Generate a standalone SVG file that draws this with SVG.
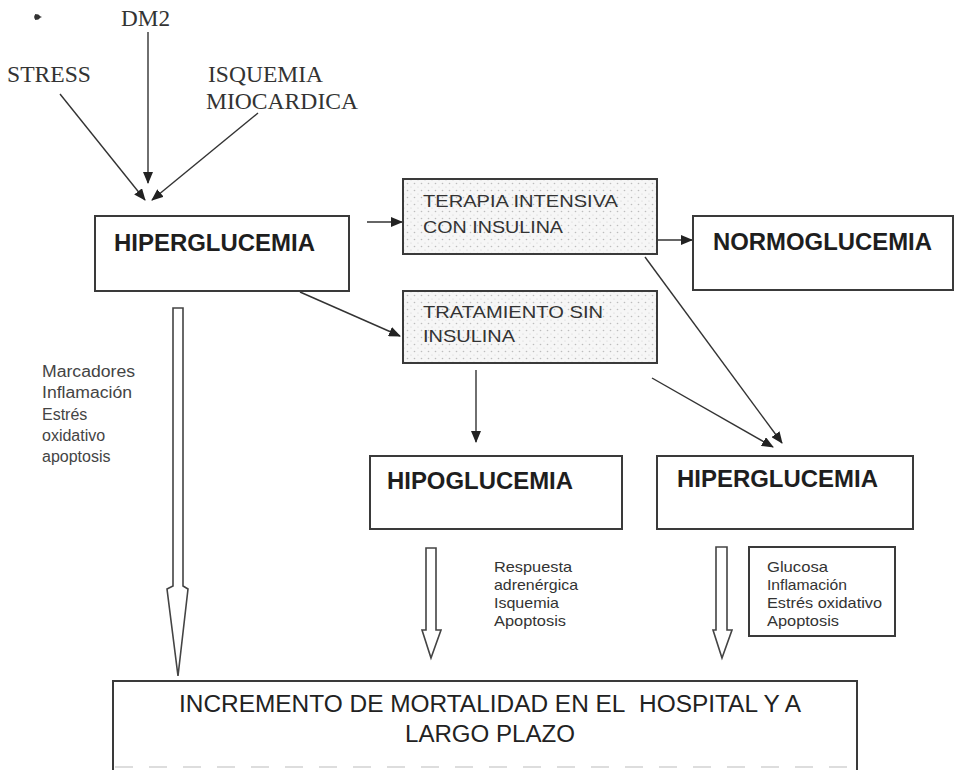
<svg xmlns="http://www.w3.org/2000/svg" width="962" height="770" viewBox="0 0 962 770">
<defs>
<style>
.box{fill:#fff;stroke:#3a3a3a;stroke-width:2}
.dot{fill:url(#dots);stroke:#3a3a3a;stroke-width:2}
.ln{stroke:#333;stroke-width:1.4;fill:none}
.hol{fill:#fff;stroke:#444;stroke-width:1.6}
text{white-space:pre}
.serif{font-family:"Liberation Serif","Times New Roman",serif;font-size:23px;fill:#333}
.big{font-family:"Liberation Sans",Arial,sans-serif;font-weight:bold;font-size:23px;fill:#1e1e1e}
.mid{font-family:"Liberation Sans",Arial,sans-serif;font-size:17px;fill:#333}
.sm{font-family:"Liberation Sans",Arial,sans-serif;font-size:16px;fill:#444}
.xs{font-family:"Liberation Sans",Arial,sans-serif;font-size:14.5px;fill:#333}
.lg{font-family:"Liberation Sans",Arial,sans-serif;font-size:23px;fill:#222}
</style>
<pattern id="dots" width="7" height="7" patternUnits="userSpaceOnUse">
<rect width="7" height="7" fill="#f6f6f6"/>
<circle cx="1.5" cy="1.5" r="0.8" fill="#bdbdbd"/>
<circle cx="5" cy="5" r="0.6" fill="#cfcfcf"/>
</pattern>
<marker id="ah" markerWidth="12" markerHeight="10" refX="11" refY="5" orient="auto" markerUnits="userSpaceOnUse">
<path d="M0,0 L12,5 L0,10 Z" fill="#222"/>
</marker>
</defs>
<rect width="962" height="770" fill="#fff"/>

<g id="labels-top">
<path d="M35,14 L42,17 L35,20 Z" fill="#333"/>
<circle cx="37" cy="17" r="2.8" fill="#333"/>
<text class="serif" x="121" y="26" textLength="49" lengthAdjust="spacingAndGlyphs">DM2</text>
<text class="serif" x="7" y="82" textLength="84" lengthAdjust="spacingAndGlyphs">STRESS</text>
<text class="serif" x="208" y="82" textLength="115" lengthAdjust="spacingAndGlyphs">ISQUEMIA</text>
<text class="serif" x="206" y="109" textLength="152" lengthAdjust="spacingAndGlyphs">MIOCARDICA</text>
</g>

<g id="connectors">
<line class="ln" x1="148" y1="32" x2="148" y2="183" marker-end="url(#ah)"/>
<line class="ln" x1="60" y1="94" x2="145" y2="200" marker-end="url(#ah)"/>
<line class="ln" x1="258" y1="113" x2="152" y2="200" marker-end="url(#ah)"/>
<line class="ln" x1="367" y1="222" x2="402" y2="222" marker-end="url(#ah)"/>
<line class="ln" x1="657" y1="240" x2="692" y2="240" marker-end="url(#ah)"/>
<line class="ln" x1="300" y1="292" x2="400" y2="336" marker-end="url(#ah)"/>
<line class="ln" x1="476" y1="370" x2="476" y2="442" marker-end="url(#ah)"/>
<line class="ln" x1="645" y1="257" x2="782" y2="443" marker-end="url(#ah)"/>
<line class="ln" x1="652" y1="378" x2="773" y2="447" marker-end="url(#ah)"/>
<path class="hol" d="M173,308 L183,308 L183,586 L188,589 L178,676 L167,589 L173,586 Z"/>
<path class="hol" d="M426,548 L436,548 L436,630 L441,630 L431,658 L422,630 L426,630 Z"/>
<path class="hol" d="M716,547 L727,547 L727,630 L732,630 L722,658 L713,630 L716,630 Z"/>
</g>

<g id="n-hiper1">
<rect class="box" x="95" y="216" width="254" height="75"/>
<text class="big" x="114" y="251" textLength="201" lengthAdjust="spacingAndGlyphs">HIPERGLUCEMIA</text>
</g>

<g id="n-terapia">
<rect class="dot" x="403" y="179" width="254" height="75"/>
<text class="mid" x="423" y="207" textLength="195" lengthAdjust="spacingAndGlyphs">TERAPIA INTENSIVA</text>
<text class="mid" x="423" y="233" textLength="140" lengthAdjust="spacingAndGlyphs">CON INSULINA</text>
</g>

<g id="n-normo">
<rect class="box" x="693" y="216" width="260" height="74"/>
<text class="big" x="713" y="250" textLength="219" lengthAdjust="spacingAndGlyphs">NORMOGLUCEMIA</text>
</g>

<g id="n-tratamiento">
<rect class="dot" x="403" y="291" width="254" height="72"/>
<text class="mid" x="423" y="318" textLength="180" lengthAdjust="spacingAndGlyphs">TRATAMIENTO SIN</text>
<text class="mid" x="423" y="342" textLength="92" lengthAdjust="spacingAndGlyphs">INSULINA</text>
</g>

<g id="n-marcadores">
<text class="sm" x="42" y="377" textLength="93" lengthAdjust="spacingAndGlyphs">Marcadores</text>
<text class="sm" x="42" y="398" textLength="90" lengthAdjust="spacingAndGlyphs">Inflamación</text>
<text class="sm" x="42" y="420">Estrés</text>
<text class="sm" x="42" y="441">oxidativo</text>
<text class="sm" x="42" y="462">apoptosis</text>
</g>

<g id="n-hipo">
<rect class="box" x="370" y="456" width="252" height="73"/>
<text class="big" x="387" y="489" textLength="186" lengthAdjust="spacingAndGlyphs">HIPOGLUCEMIA</text>
</g>

<g id="n-hiper2">
<rect class="box" x="657" y="456" width="256" height="73"/>
<text class="big" x="677" y="487" textLength="201" lengthAdjust="spacingAndGlyphs">HIPERGLUCEMIA</text>
</g>

<g id="n-respuesta">
<text class="xs" x="494" y="572" textLength="78" lengthAdjust="spacingAndGlyphs">Respuesta</text>
<text class="xs" x="494" y="590" textLength="84" lengthAdjust="spacingAndGlyphs">adrenérgica</text>
<text class="xs" x="494" y="608" textLength="65" lengthAdjust="spacingAndGlyphs">Isquemia</text>
<text class="xs" x="494" y="626" textLength="72" lengthAdjust="spacingAndGlyphs">Apoptosis</text>
</g>

<g id="n-glucosa">
<rect class="box" x="749" y="547" width="146" height="89" stroke-width="1.6"/>
<text class="xs" x="767" y="572" textLength="61" lengthAdjust="spacingAndGlyphs">Glucosa</text>
<text class="xs" x="767" y="590" textLength="80" lengthAdjust="spacingAndGlyphs">Inflamación</text>
<text class="xs" x="767" y="608" textLength="115" lengthAdjust="spacingAndGlyphs">Estrés oxidativo</text>
<text class="xs" x="767" y="626" textLength="72" lengthAdjust="spacingAndGlyphs">Apoptosis</text>
</g>

<g id="n-mortalidad">
<path class="box" d="M113,772 L113,681 L857,681 L857,772" fill="#fff"/>
<text class="lg" x="490" y="712" text-anchor="middle" textLength="622" lengthAdjust="spacingAndGlyphs">INCREMENTO DE MORTALIDAD EN EL&#160; HOSPITAL Y A</text>
<text class="lg" x="490" y="742" text-anchor="middle" textLength="170" lengthAdjust="spacingAndGlyphs">LARGO PLAZO</text>
<line x1="115" y1="767" x2="855" y2="767" stroke="#bbb" stroke-width="1.2" stroke-dasharray="18 16"/>
</g>
</svg>
